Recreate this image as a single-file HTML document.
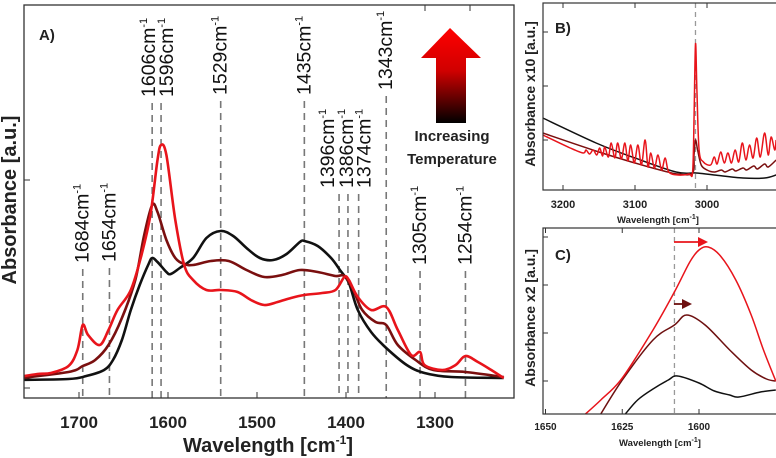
<!DOCTYPE html>
<html><head><meta charset="utf-8"><style>
body{margin:0;background:#fff;}
svg{display:block;font-family:"Liberation Sans",sans-serif;}
</style></head><body>
<svg id="chart" width="776" height="458" viewBox="0 0 776 458">
<defs>
<linearGradient id="tg" x1="0" y1="1" x2="0" y2="0">
<stop offset="0" stop-color="#000"/><stop offset="0.55" stop-color="#d00000"/><stop offset="1" stop-color="#ff0000"/>
</linearGradient>
</defs>
<g id="pa"></g>
<g id="pb"></g>
<g id="pc"></g>
</svg>
<script>
// ---------- Panel A data ----------
const aTicks = [1700, 1600, 1500, 1400, 1300];
const aPeaks = [1684, 1654, 1606, 1596, 1529, 1435, 1396, 1386, 1374, 1343, 1305, 1254];
const aPeakLabelBottom = [263, 262, 97, 97, 95, 95, 188, 188, 188, 90, 265, 265];
const aPeakLabelShift = [6, 6, 3, 12, 6, 6, -5, 5, 12, 6, 6, 6];
const aBlackW = [1762,1700,1680,1660,1650,1640,1630,1620,1610,1606,1600,1590,1585,1575,1560,1545,1529,1515,1500,1485,1470,1455,1440,1435,1420,1405,1395,1385,1375,1360,1343,1320,1300,1270,1211];
const aBlackV = [0.08,0.09,0.12,0.18,0.28,0.48,0.78,1.03,1.24,1.30,1.26,1.16,1.14,1.20,1.30,1.50,1.57,1.52,1.40,1.30,1.28,1.34,1.46,1.47,1.42,1.30,1.18,1.05,0.78,0.56,0.40,0.23,0.15,0.11,0.10];
const aDarkW = [1762,1700,1684,1670,1655,1640,1625,1615,1606,1600,1590,1580,1570,1560,1540,1520,1500,1480,1460,1440,1420,1400,1390,1380,1370,1355,1343,1330,1310,1290,1254,1211];
const aDarkV = [0.09,0.16,0.22,0.28,0.43,0.70,1.08,1.53,1.83,1.76,1.48,1.30,1.24,1.23,1.27,1.27,1.18,1.11,1.13,1.18,1.16,1.12,1.12,0.98,0.78,0.66,0.63,0.43,0.28,0.18,0.16,0.11];
const aRedW = [1762,1735,1720,1700,1690,1684,1678,1665,1655,1645,1630,1618,1608,1600,1596,1590,1580,1570,1560,1545,1529,1510,1495,1480,1465,1450,1435,1415,1400,1390,1385,1375,1360,1343,1330,1315,1305,1300,1280,1265,1254,1240,1225,1211];
const aRedV = [0.10,0.14,0.15,0.22,0.38,0.63,0.53,0.43,0.58,0.78,0.98,1.33,1.73,2.28,2.43,2.33,1.68,1.23,1.08,0.98,0.98,0.96,0.88,0.83,0.86,0.90,0.93,0.95,0.98,1.11,1.08,0.91,0.78,0.81,0.58,0.33,0.36,0.23,0.18,0.23,0.32,0.26,0.18,0.10];
// ---------- Panel B data ----------
const bTicks = [3200, 3100, 3000];
const bBlackW = [3228,3154,3100,3043,3015,2990,2950,2920,2904];
const bBlackV = [0.67,0.42,0.27,0.13,0.12,0.10,0.07,0.07,0.10];
const bRedW = [3228,3190,3172,3168,3163,3158,3153,3149,3145,3142,3137,3133,3128,3124,3119,3114,3110,3106,3101,3096,3091,3086,3082,3078,3073,3068,3063,3058,3053,3040,3025,3020,3018,3016,3014,3011,3005,2995,2990,2986,2981,2976,2971,2966,2961,2956,2951,2946,2941,2936,2931,2926,2920,2915,2911,2906,2904];
const bRedV = [0.50,0.37,0.32,0.35,0.31,0.35,0.30,0.37,0.29,0.38,0.28,0.42,0.27,0.42,0.26,0.42,0.24,0.40,0.22,0.40,0.20,0.45,0.18,0.32,0.17,0.30,0.15,0.27,0.13,0.10,0.11,0.13,0.65,1.41,0.95,0.35,0.23,0.20,0.28,0.21,0.33,0.22,0.32,0.22,0.35,0.23,0.42,0.25,0.40,0.27,0.47,0.28,0.52,0.30,0.48,0.35,0.45];
const bDarkW = [3228,3150,3100,3060,3040,3020,3018,3016,3013,3008,3000,2990,2980,2975,2965,2960,2950,2945,2935,2930,2920,2915,2904];
const bDarkV = [0.52,0.33,0.22,0.14,0.11,0.12,0.30,0.45,0.35,0.20,0.15,0.13,0.15,0.13,0.16,0.14,0.17,0.15,0.19,0.16,0.21,0.18,0.25];
// ---------- Panel C data ----------
const cTicks = [1650, 1625, 1600];
const cBlackW = [1624,1620,1615,1610,1607,1600,1595,1590,1587,1580,1575];
const cBlackV = [0.00,0.14,0.25,0.34,0.38,0.31,0.23,0.19,0.17,0.22,0.24];
const cDarkW = [1632,1625,1615,1608,1604,1598,1590,1583,1578,1575];
const cDarkV = [0.00,0.34,0.74,0.89,0.99,0.89,0.64,0.44,0.35,0.33];
const cRedW = [1637,1632,1625,1615,1608,1603,1600,1597,1593,1588,1583,1579,1575];
const cRedV = [0.00,0.14,0.36,0.84,1.22,1.52,1.64,1.67,1.58,1.34,0.99,0.64,0.33];

const NS = "http://www.w3.org/2000/svg";
function mk(parent, tag, attrs, text){
  const e = document.createElementNS(NS, tag);
  for (const k in attrs) e.setAttribute(k, attrs[k]);
  if (text !== undefined) e.textContent = text;
  parent.appendChild(e);
  return e;
}
function smoothD(ws, vs, sx, sy){
  const p = ws.map((w,i)=>[sx(w), sy(vs[i])]);
  let d = 'M'+p[0][0].toFixed(1)+','+p[0][1].toFixed(1);
  for (let i=0;i<p.length-1;i++){
    const p0=p[Math.max(i-1,0)], p1=p[i], p2=p[i+1], p3=p[Math.min(i+2,p.length-1)];
    const c1=[p1[0]+(p2[0]-p0[0])/6, p1[1]+(p2[1]-p0[1])/6];
    const c2=[p2[0]-(p3[0]-p1[0])/6, p2[1]-(p3[1]-p1[1])/6];
    d += ' C'+c1[0].toFixed(1)+','+c1[1].toFixed(1)+' '+c2[0].toFixed(1)+','+c2[1].toFixed(1)+' '+p2[0].toFixed(1)+','+p2[1].toFixed(1);
  }
  return d;
}
// ---------- Panel A ----------
const pa = document.getElementById('pa');
const ax = w => 157.5 + (1600 - w) * 0.89;
const ay = v => 388 - v * 100;
mk(pa,'clipPath',{id:'clipA'});
mk(document.getElementById('clipA'),'rect',{x:24,y:5,width:490,height:393});
const pk = mk(pa,'g',{});


aPeaks.forEach((p,i)=>{
  const x = ax(p);
  const ln = mk(pk,'line',{x1:x,y1:aPeakLabelBottom[i]+6,x2:x,y2:398,stroke:'#777','stroke-width':1.6,'stroke-dasharray':'7,5'});
  
  
  const t = mk(pk,'text',{transform:`translate(${x+aPeakLabelShift[i]},${aPeakLabelBottom[i]}) rotate(-90)`,'font-size':19.5,fill:'#111'});
  
  
  mk(t,'tspan',{},p+'cm');
  mk(t,'tspan',{dy:-8,'font-size':11},'-1');
});
const cg = mk(pa,'g',{'clip-path':'url(#clipA)'});
[[aBlackW,aBlackV,'#111','black'],[aDarkW,aDarkV,'#7a0f0f','darkred'],[aRedW,aRedV,'#e8141b','red']].forEach(s=>{
  const p = mk(cg,'path',{d:smoothD(s[0],s[1],ax,ay),fill:'none',stroke:s[2],'stroke-width':2.6,'stroke-linejoin':'round'});
  
  
});
const fa = mk(pa,'rect',{x:24,y:5,width:490,height:393,fill:'none',stroke:'#333','stroke-width':1.3});


aTicks.forEach(t=>{
  const tx = ax(t) + 10.5;
  mk(pa,'line',{x1:tx,y1:398,x2:tx,y2:392,stroke:'#333'});
  const tl = mk(pa,'text',{x:tx,y:428,'font-size':17,'font-weight':'bold','text-anchor':'middle',fill:'#222'},t);
  
  
});
mk(pa,'line',{x1:24,y1:180,x2:30,y2:180,stroke:'#333'});
mk(pa,'line',{x1:24,y1:388,x2:30,y2:388,stroke:'#333'});
mk(pa,'line',{x1:425,y1:5,x2:425,y2:11,stroke:'#333'});
mk(pa,'line',{x1:470,y1:5,x2:470,y2:11,stroke:'#333'});
const xt = mk(pa,'text',{x:268,y:452,'font-size':20,'font-weight':'bold','text-anchor':'middle',fill:'#222'});


mk(xt,'tspan',{},'Wavelength [cm');
mk(xt,'tspan',{dy:-8,'font-size':12},'-1');
mk(xt,'tspan',{dy:8},']');
const yt = mk(pa,'text',{transform:'translate(16,200) rotate(-90)','font-size':20,'font-weight':'bold','text-anchor':'middle',fill:'#222'},'Absorbance [a.u.]');


const la = mk(pa,'text',{x:39,y:40,'font-size':15,'font-weight':'bold',fill:'#222'},'A)');


const arr = mk(pa,'polygon',{points:'450,28 481,58 466,58 466,123 436,123 436,58 421,58',fill:'url(#tg)'});


const it1 = mk(pa,'text',{x:452,y:141,'font-size':15,'font-weight':'bold','text-anchor':'middle',fill:'#222'},'Increasing');


mk(pa,'text',{x:452,y:164,'font-size':15,'font-weight':'bold','text-anchor':'middle',fill:'#222'},'Temperature');
// ---------- Panel B ----------
const pb = document.getElementById('pb');
const bx = w => 707 + (3000 - w) * 0.72;
const by = v => 185 - v * 100;
mk(pb,'clipPath',{id:'clipB'});
mk(document.getElementById('clipB'),'rect',{x:543,y:3,width:233,height:187});
const dB = mk(pb,'line',{x1:bx(3016),y1:3,x2:bx(3016),y2:190,stroke:'#999','stroke-width':1.3,'stroke-dasharray':'5,4'});


const cgb = mk(pb,'g',{'clip-path':'url(#clipB)'});
[[bBlackW,bBlackV,'#111','black'],[bDarkW,bDarkV,'#7a0f0f','darkred'],[bRedW,bRedV,'#e8141b','red']].forEach(s=>{
  const p = mk(cgb,'path',{d:smoothD(s[0],s[1],bx,by),fill:'none',stroke:s[2],'stroke-width':1.5,'stroke-linejoin':'round'});
  
  
});
mk(pb,'rect',{x:543,y:3,width:240,height:187,fill:'none',stroke:'#333','stroke-width':1.2});
bTicks.forEach(t=>{
  mk(pb,'line',{x1:bx(t),y1:190,x2:bx(t),y2:185,stroke:'#333'});
  mk(pb,'line',{x1:bx(t),y1:3,x2:bx(t),y2:8,stroke:'#333'});
  const tl = mk(pb,'text',{x:bx(t),y:208,'font-size':11,'font-weight':'bold','text-anchor':'middle',fill:'#222'},t);
  
  
});
[32,86,140].forEach(y=>mk(pb,'line',{x1:543,y1:y,x2:548,y2:y,stroke:'#333'}));
const xtb = mk(pb,'text',{x:658,y:223,'font-size':9.5,'font-weight':'bold','text-anchor':'middle',fill:'#222'});


mk(xtb,'tspan',{},'Wavelength [cm');
mk(xtb,'tspan',{dy:-4,'font-size':7},'-1');
mk(xtb,'tspan',{dy:4},']');
const ytb = mk(pb,'text',{transform:'translate(535,94) rotate(-90)','font-size':14,'font-weight':'bold','text-anchor':'middle',fill:'#222'},'Absorbance x10 [a.u.]');


const lb = mk(pb,'text',{x:555,y:33,'font-size':15,'font-weight':'bold',fill:'#222'},'B)');


// ---------- Panel C ----------
const pc = document.getElementById('pc');
const cx = w => 699 + (1600 - w) * 3.07;
const cy = v => 414 - v * 100;
mk(pc,'clipPath',{id:'clipC'});
mk(document.getElementById('clipC'),'rect',{x:543,y:228,width:233,height:186});
const dC = mk(pc,'line',{x1:cx(1608),y1:228,x2:cx(1608),y2:414,stroke:'#999','stroke-width':1.3,'stroke-dasharray':'5,4'});


const cgc = mk(pc,'g',{'clip-path':'url(#clipC)'});
[[cBlackW,cBlackV,'#111','black'],[cDarkW,cDarkV,'#6e1010','darkred'],[cRedW,cRedV,'#e8141b','red']].forEach(s=>{
  const p = mk(cgc,'path',{d:smoothD(s[0],s[1],cx,cy),fill:'none',stroke:s[2],'stroke-width':1.5,'stroke-linejoin':'round'});
  
  
});
mk(pc,'rect',{x:543,y:228,width:240,height:186,fill:'none',stroke:'#333','stroke-width':1.2});
cTicks.forEach(t=>{
  mk(pc,'line',{x1:cx(t),y1:414,x2:cx(t),y2:409,stroke:'#333'});
  mk(pc,'line',{x1:cx(t),y1:228,x2:cx(t),y2:233,stroke:'#333'});
  const tl = mk(pc,'text',{x:cx(t),y:430,'font-size':10,'font-weight':'bold','text-anchor':'middle',fill:'#222'},t);
  
  
});
[237,285,333,381].forEach(y=>mk(pc,'line',{x1:543,y1:y,x2:548,y2:y,stroke:'#333'}));
const xtc = mk(pc,'text',{x:660,y:446,'font-size':9.5,'font-weight':'bold','text-anchor':'middle',fill:'#222'});


mk(xtc,'tspan',{},'Wavelength [cm');
mk(xtc,'tspan',{dy:-4,'font-size':7},'-1');
mk(xtc,'tspan',{dy:4},']');
const ytc = mk(pc,'text',{transform:'translate(535,318) rotate(-90)','font-size':14,'font-weight':'bold','text-anchor':'middle',fill:'#222'},'Absorbance x2 [a.u.]');


const lc = mk(pc,'text',{x:555,y:260,'font-size':15,'font-weight':'bold',fill:'#222'},'C)');


const a1 = mk(pc,'line',{x1:674,y1:242,x2:700,y2:242,stroke:'#e8141b','stroke-width':1.8});


mk(pc,'polygon',{points:'698,237 708,242 698,247',fill:'#e8141b'});
const a2 = mk(pc,'line',{x1:674,y1:304,x2:684,y2:304,stroke:'#6e1010','stroke-width':1.8});


mk(pc,'polygon',{points:'682,299 692,304 682,309',fill:'#6e1010'});
</script>
</body></html>
